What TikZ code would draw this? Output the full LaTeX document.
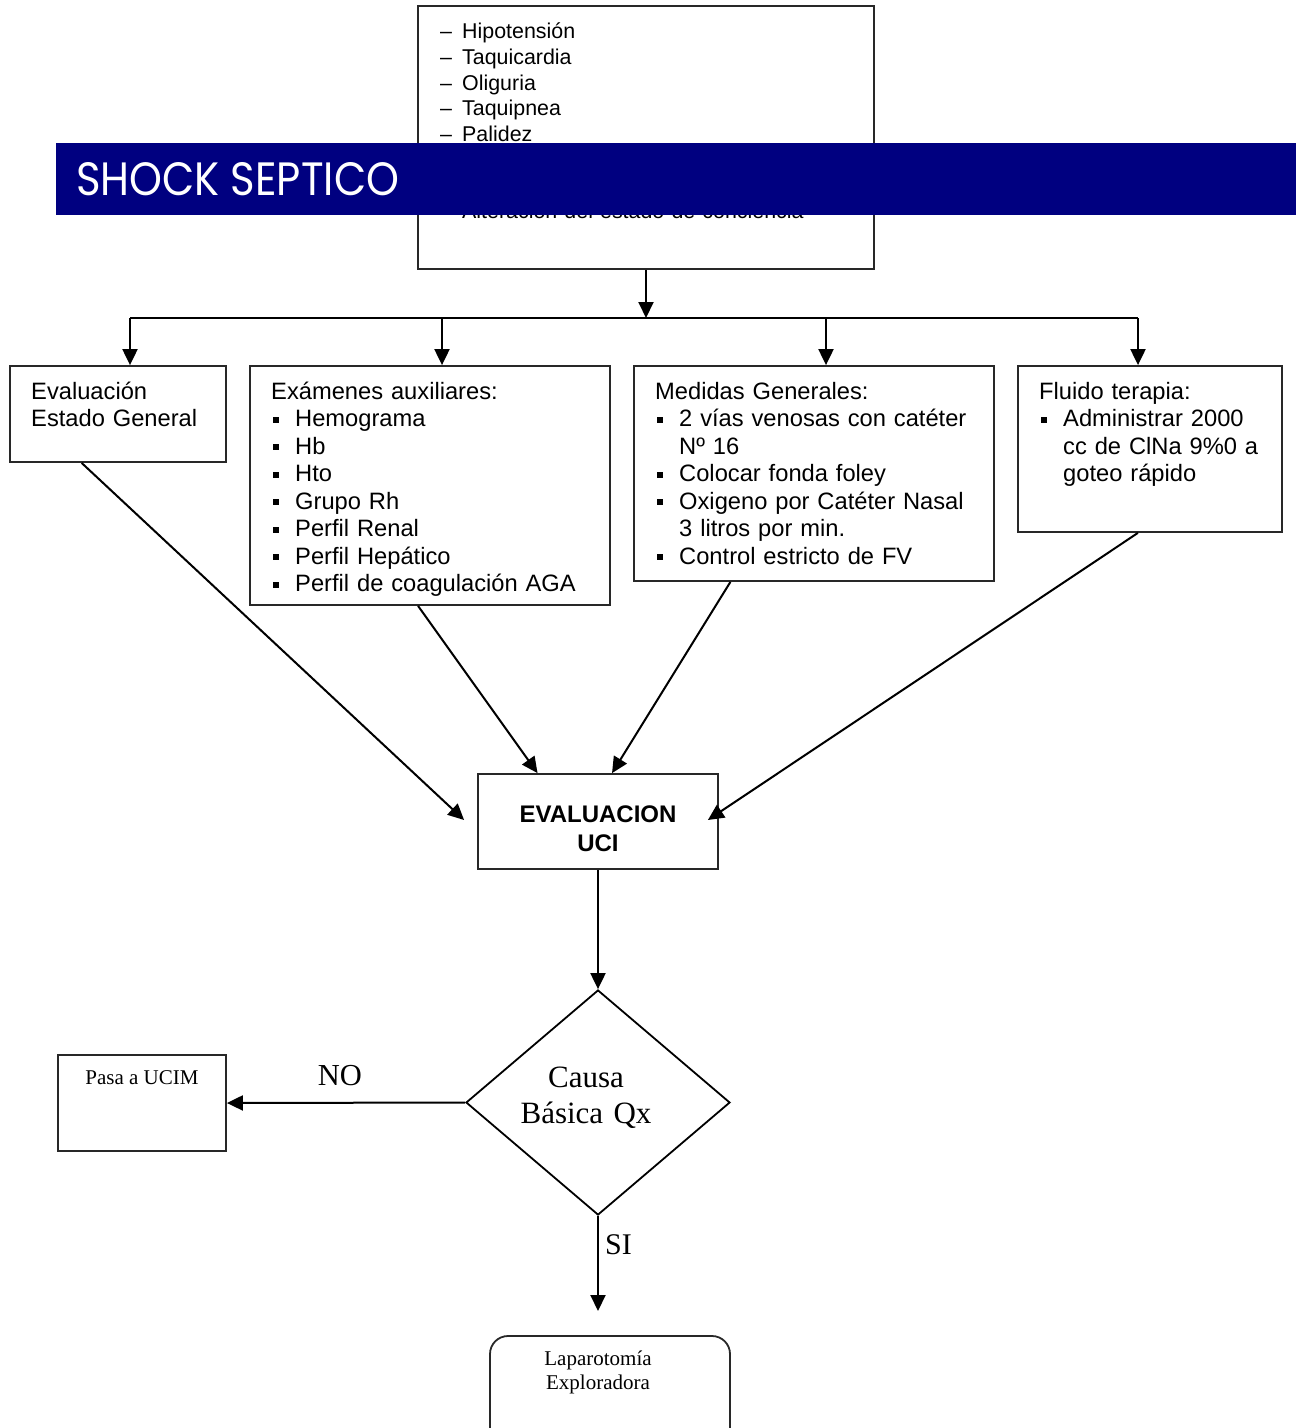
\documentclass[tikz,border=0pt]{standalone}
\usepackage{fontspec}
\setmainfont{Liberation Sans}
\newfontfamily\timesfont{Liberation Serif}
\newfontfamily\titlefont{Poppins}
\usetikzlibrary{arrows.meta,shapes.geometric,calc}
\definecolor{bannerblue}{RGB}{0,0,128}
\definecolor{boxline}{RGB}{40,40,40}
% list markers
\newcommand{\sqbul}{\makebox[24pt][l]{\hspace*{2pt}\rule[4pt]{6pt}{6pt}}}
\newcommand{\dashbul}{\makebox[22pt][l]{–}}
\newcommand{\hangind}{\hspace*{24pt}}
\begin{document}
\begin{tikzpicture}[x=1pt,y=-1pt,
  box/.style={draw=boxline,line width=1.8pt,rectangle,inner sep=0pt},
  body/.style={anchor=base west,inner sep=0pt,align=left,text width=345pt,
    font=\fontsize{23.7}{27.5}\selectfont},
  serifbody/.style={inner sep=0pt,font=\timesfont\fontsize{21}{24}\selectfont},
  arr/.style={draw=black,line width=2pt,-{Triangle[length=16pt,width=15pt]}},
  link/.style={draw=black,line width=2pt}]
\clip (0,0) rectangle (1296,1428);

% clinical signs
\node[box,minimum width=456pt,minimum height=263pt] (signs) at (646,137.5) {};
\node[body,text width=420pt,font=\fontsize{21.4}{25.7}\selectfont] (signsT) at (440,38.6)
  {\dashbul Hipotensión\\ \dashbul Taquicardia\\ \dashbul Oliguria\\ \dashbul Taquipnea\\
   \dashbul Palidez\\[51.4pt] \dashbul Alteración del estado de conciencia};

% title banner
\node[fill=bannerblue,inner sep=0pt,minimum width=1240pt,minimum height=72pt,anchor=north west] (banner) at (56,143) {};
\node[anchor=base west,inner sep=0pt,text=white,font=\titlefont\fontsize{44}{44}\selectfont] (title) at (76,195.5)
  {\resizebox{323pt}{33pt}{SHOCK SEPTICO}};

% distribution bus
\coordinate (bus) at (646,318);
\coordinate (b1) at (130,318);
\coordinate (b2) at (442,318);
\coordinate (b3) at (826,318);
\coordinate (b4) at (1138,318);

% second row
\node[box,minimum width=216pt,minimum height=96pt] (eval) at (118,414) {};
\node[body] (evalT) at (31,399) {Evaluación\\Estado General};

\node[box,minimum width=360pt,minimum height=239pt] (exam) at (430,485.5) {};
\node[body] (examT) at (271,399)
  {Exámenes auxiliares:\\ \sqbul Hemograma\\ \sqbul Hb\\ \sqbul Hto\\ \sqbul Grupo Rh\\
   \sqbul Perfil Renal\\ \sqbul Perfil Hepático\\ \sqbul Perfil de coagulación AGA};

\node[box,minimum width=360pt,minimum height=215pt] (med) at (814,473.5) {};
\node[body] (medT) at (655,399)
  {Medidas Generales:\\ \sqbul 2 vías venosas con catéter\\ \hangind Nº 16\\
   \sqbul Colocar fonda foley\\ \sqbul Oxigeno por Catéter Nasal\\ \hangind 3 litros por min.\\
   \sqbul Control estricto de FV};

\node[box,minimum width=264pt,minimum height=166pt] (flu) at (1150,449) {};
\node[body] (fluT) at (1039,399)
  {Fluido terapia:\\ \sqbul Administrar 2000\\ \hangind cc de ClNa 9\%0 a\\ \hangind goteo rápido};

% ICU evaluation
\node[box,minimum width=240pt,minimum height=95pt] (uci) at (598,821.5) {};
\node[anchor=base,inner sep=0pt,align=center,text width=240pt,
  font=\bfseries\fontsize{24}{29}\selectfont] (uciT) at (598,822.5) {EVALUACION\\UCI};

% decision
\node[diamond,draw=black,line width=1.8pt,inner sep=0pt,minimum width=264pt,minimum height=225pt] (dec) at (598,1102.5) {};
\node[anchor=base,inner sep=0pt,align=center,text width=200pt,
  font=\timesfont\fontsize{31}{36}\selectfont] (decT) at (586,1087) {Causa\\Básica Qx};

\node[box,minimum width=168pt,minimum height=96pt] (pasa) at (142,1103) {};
\node[serifbody,anchor=base] (pasaT) at (142,1084) {Pasa a UCIM};

\node[box,rounded corners=18pt,minimum width=240pt,minimum height=110pt] (lap) at (610,1391) {};
\node[serifbody,anchor=base,align=center,text width=200pt] (lapT) at (598,1365) {Laparotomía\\Exploradora};

% connectors
\draw[arr] (signs.south) -- (bus);
\draw[link] (b1) -- (b4);
\draw[arr] (b1) -- (b1 |- eval.north);
\draw[arr] (b2) -- (b2 |- exam.north);
\draw[arr] (b3) -- (b3 |- med.north);
\draw[arr] (b4) -- (b4 |- flu.north);

\coordinate (uciL) at ($(uci.west)+(-13,-1.5)$);
\coordinate (uciR) at ($(uci.east)+(-11,-1.5)$);
\draw[arr] ($(eval.south west)!0.333!(eval.south east)$) -- (uciL);
\draw[arr] ($(exam.south west)!0.467!(exam.south east)$) -- ($(uci.north west)!0.25!(uci.north east)$);
\draw[arr] ($(med.south west)!0.269!(med.south east)$) -- ($(uci.north west)!0.558!(uci.north east)$);
\draw[arr] ($(flu.south west)!0.4545!(flu.south east)$) -- (uciR);

\draw[arr] (uci.south) -- (dec.north);
\draw[arr] (dec.west) -- (pasa.east);
\node[anchor=base,inner sep=0pt,font=\timesfont\fontsize{30.5}{36}\selectfont] (no) at (340,1085) {NO};
\coordinate (siEnd) at (598,1311);
\draw[arr] (dec.south) -- (siEnd);
\node[anchor=base west,inner sep=0pt,font=\timesfont\fontsize{30}{36}\selectfont] (si) at (605,1254) {SI};
\end{tikzpicture}
\end{document}
